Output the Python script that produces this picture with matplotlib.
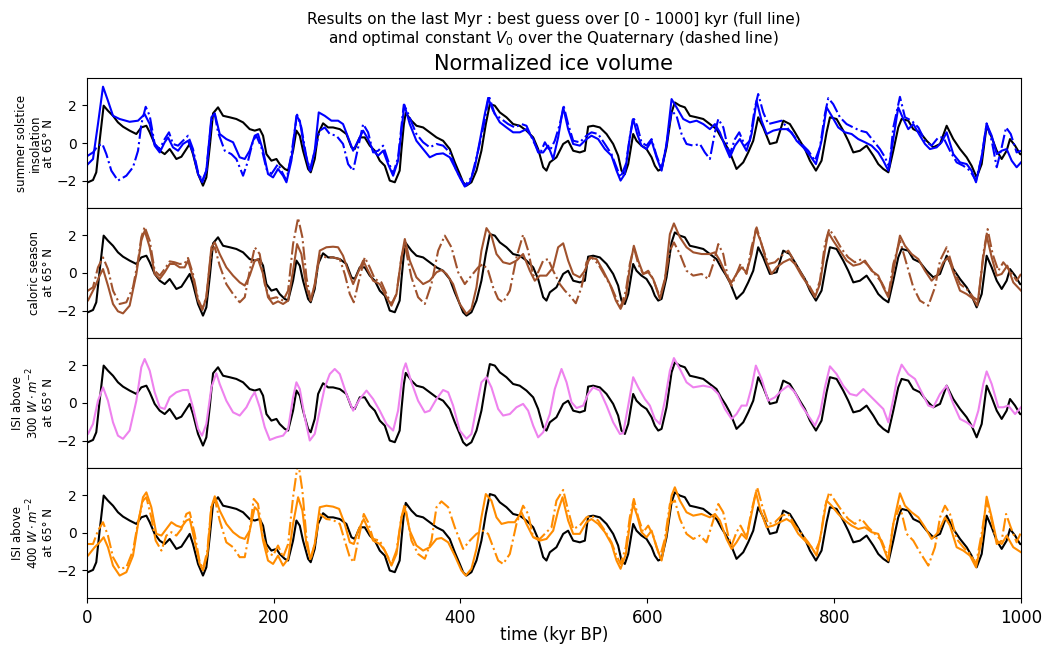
import numpy as np
import matplotlib
matplotlib.use("Agg")
from matplotlib import pyplot as plt

# normalized ice volume (reference record), time in kyr BP
ice = np.array([
    (0, -2.1), (1.4, -2.09), (6.8, -1.97), (10.3, -1.56), (13.9, 0.12), (18.2, 1.99), (22.8, 1.72), (28.2, 1.45),
    (33.5, 1.10), (38.9, 0.87), (46, 0.66), (53.2, 0.48), (58.5, 0.83), (63.9, 0.92), (67.5, 0.57), (72.8, -0.05),
    (78.2, -0.41), (83.5, -0.59), (88.9, -0.32), (96, -0.85), (101.4, -0.73), (106.7, -0.32), (110.3, -0.05),
    (113.8, -0.59), (119.2, -1.65), (124.5, -2.27), (128.1, -1.83), (131.7, -0.23), (135.3, 1.58), (140.6, 1.90),
    (146, 1.45), (153.1, 1.37), (160.2, 1.28), (167.4, 1.10), (174.5, 0.74), (179.9, 0.66), (185.2, 0.74),
    (188.8, 0.39), (192.4, -0.59), (197.7, -0.94), (203.1, -0.85), (206.6, -1.12), (212, -1.38), (215.6, -1.47),
    (220.9, -0.41), (224.5, 0.66), (228.1, 0.39), (231.6, -0.41), (237, -1.38), (239.8, -1.56), (244.1, -0.85),
    (247.7, 0.48), (253, 1.05), (258.4, 0.83), (263.7, 0.83), (270.9, 0.74), (278, 0.48), (283.4, -0.23),
    (286.9, -0.32), (292.3, 0.30), (297.6, 0.30), (303, -0.14), (308.4, -0.41), (313.7, -0.94), (319.1, -1.21),
    (324.4, -2.0), (329.8, -2.09), (335, -1.47), (337, -0.3), (339.5, 1.0), (341.5, 1.6), (347.6, 1.19),
    (353, 0.92), (360.1, 0.83), (367.2, 0.57), (374.4, 0.30), (381.5, 0.12), (388.6, -0.32), (394, -1.03),
    (399.3, -1.65), (402.9, -2.09), (406.5, -2.27), (411.8, -2.09), (417.2, -1.47), (422.5, -0.41), (427.2, 1.01),
    (431.5, 2.07), (436.8, 1.99), (442.2, 1.63), (449.3, 1.37), (456.4, 1.01), (463.5, 0.92), (470.7, 0.66),
    (477.9, 0.30), (483.2, -0.32), (488.6, -1.29), (492.1, -1.47), (495.7, -1.03), (502.8, -0.76), (510, -0.05),
    (515.3, 0.12), (520.7, -0.41), (527.8, -0.50), (533.2, -0.41), (536.7, 0.87), (542.1, 0.92), (549.2, 0.83),
    (556.4, 0.48), (563.5, -0.05), (568.8, -0.67), (572.4, -1.47), (576, -1.65), (579.6, -1.12), (584.9, 0.48),
    (588.5, 0.12), (593.8, -0.14), (599.2, -0.32), (604.6, -0.76), (608.1, -1.21), (611.7, -1.47), (615.3, -1.38),
    (620.6, -0.23), (626, 1.63), (629.5, 2.16), (634.9, 1.99), (640.2, 1.90), (645.6, 1.45), (652.7, 1.37),
    (659.9, 1.28), (667, 1.01), (674.1, 0.74), (679.5, 0.25), (684, -0.1), (688.4, -0.5), (695.5, -1.38),
    (702.7, -1.03), (708, -0.50), (713.4, 0.12), (718.7, 1.37), (724.1, 0.83), (731.2, -0.05), (738.4, 0.04),
    (745.5, 1.19), (752.6, 1.01), (758, 0.57), (763.3, 0.12), (768.7, -0.32), (774.1, -0.94), (780.5, -1.47),
    (786.5, -0.94), (791.9, 0.57), (795.5, 1.37), (802.6, 1.28), (809.7, 0.66), (815.1, 0.12), (820.5, -0.50),
    (827.6, -0.41), (834.7, -0.14), (841.9, -0.67), (847.2, -1.12), (852.6, -1.38), (858, -1.56), (863.3, -0.41),
    (868.6, 0.83), (872.2, 1.28), (879.3, 1.19), (884.7, 0.74), (891.8, 0.57), (899, 0.12), (906.1, -0.23),
    (913.3, -0.05), (920.4, 0.92), (927.5, 0.21), (934.7, -0.32), (941.8, -0.76), (947.1, -1.21), (952.5, -1.83),
    (957.9, -1.12), (963.2, 0.92), (968.6, 0.30), (974, -0.41), (979.3, -0.85), (984.6, -0.41), (988.2, 0.21),
    (993.6, -0.14), (999, -0.59), (1000, -0.6)])

# summer solstice insolation at 65N : best guess (full) / optimal V0 (dashed)
sol_full = np.array([
    (0, -1.2), (1.4, -1.12), (6.8, -0.85), (12.1, 1.01), (17.5, 3.00), (22.8, 2.25), (28.2, 1.45), (35.3, 1.28),
    (46, 1.13), (55, 1.19), (62.1, 1.54), (67.5, 1.01), (72.8, -0.14), (78.2, -0.50), (83.5, 0.04), (87.1, 0.30),
    (92.4, -0.23), (97.8, -0.41), (103.1, -0.05), (108.5, 0.12), (113.8, -0.50), (119.2, -1.65), (123.8, -2.09),
    (128.1, -1.47), (133.5, 1.37), (137.1, 1.58), (142.4, 0.48), (149.5, 0.21), (156.7, 0.04), (163.8, -0.76),
    (169.2, -0.85), (174.5, -0.41), (179.9, 0.39), (183.4, 0.48), (188.8, -0.41), (194.1, -1.65), (199.5, -1.83),
    (204.8, -1.38), (210.2, -1.74), (213.8, -2.09), (219.1, -0.94), (224.5, 1.45), (228.1, 1.19), (233.4, -0.41),
    (238.8, -1.47), (244.1, -0.41), (248.4, 1.63), (254.8, 1.45), (261.9, 1.19), (269.1, 1.19), (274.4, 1.01),
    (279.8, 0.30), (285.2, -0.41), (290.5, 0.12), (295.9, 0.66), (301.2, 0.21), (306.6, -0.41), (312, -0.67),
    (317.3, -0.41), (322.6, -1.12), (328, -1.74), (333.3, -0.94), (340, 2.04), (345.8, 1.01), (352.9, 0.12),
    (360.1, -0.32), (367.2, -0.76), (374.4, -0.59), (381.5, -0.55), (388.6, -0.76), (394, -1.29), (399.3, -1.83),
    (404.7, -2.32), (410.1, -2.09), (415.4, -1.29), (420.8, 0.12), (426.1, 1.54), (429.7, 2.39), (435, 1.72),
    (442.2, 1.10), (449.3, 0.83), (456.4, 0.57), (463.6, 0.57), (470.7, 0.74), (477.9, 0.21), (483.2, -0.50),
    (488.6, -0.50), (493.9, -0.14), (499.3, -0.85), (504.6, 0.30), (510, 1.90), (515.3, 0.74), (520.7, -0.05),
    (527.8, -0.14), (534.9, 0.21), (540.3, 0.39), (547.4, 0.21), (554.6, -0.32), (561.7, -0.67), (567.1, -1.47),
    (571.4, -2.00), (576, -1.65), (581.3, 0.30), (584.9, 1.28), (589.2, 0.48), (593.8, -0.14), (599.2, -0.32),
    (604.6, 0.12), (609.9, -0.76), (615.3, -1.47), (620.6, -0.05), (626, 2.34), (631.3, 1.90), (638.5, 1.28),
    (645.6, 1.10), (652.7, 1.19), (659.9, 1.01), (667, 0.74), (672.4, 1.01), (677.7, 0.57), (683, -0.14),
    (688.4, -0.76), (693.8, -0.14), (699.1, 0.21), (706.2, -0.41), (711.6, 0.48), (717, 2.25), (722.3, 1.19),
    (727.7, 0.48), (734.8, 0.66), (741.9, 0.74), (749.1, 0.74), (754.4, 0.57), (759.8, 0.12), (766.9, -0.23),
    (774.1, -0.67), (780.5, -1.12), (786.5, 0.12), (791.9, 1.90), (797.3, 1.45), (804.4, 0.83), (811.5, 0.57),
    (818.7, 0.48), (825.8, 0.21), (833, 0.04), (840.1, -0.14), (847.2, -0.50), (852.6, -0.94), (858, -1.47),
    (863.3, 0.21), (868.6, 1.90), (874, 1.28), (879.3, 0.74), (884.7, 1.01), (891.8, 0.39), (897.2, -0.05),
    (902.5, -0.32), (909.7, -0.23), (915, 0.04), (920.4, 0.57), (927.5, -0.59), (934.7, -1.03), (941.8, -1.12),
    (947.1, -1.47), (951.8, -2.09), (957.8, -0.76), (963.2, 1.01), (968.6, 0.39), (974, -0.59), (979.3, -0.41),
    (984.6, -0.32), (990, -0.94), (995.3, -1.29), (1000, -1.03)])

sol_dash = np.array([
    (0, -0.7), (1.4, -0.67), (6.8, -0.50), (12.1, -0.14), (16.8, -0.05), (21.1, -0.59), (26.4, -1.47),
    (33.5, -2.00), (42.5, -1.74), (49.6, -1.29), (55, -0.41), (58.5, 1.01), (63.2, 1.93), (67.5, 1.45),
    (72.8, -0.05), (78.2, -0.32), (83.5, 0.21), (88.1, 0.57), (92.4, -0.05), (97.8, -0.14), (103.1, 0.12),
    (108.5, 0.39), (113.8, -0.32), (119.2, -1.56), (123.8, -2.00), (128.1, -1.47), (133.5, 1.19), (137.1, 1.54),
    (140.6, 0.57), (147.8, -0.41), (154.9, -0.59), (160.2, -0.85), (167.4, -1.74), (172.8, -0.94), (178.1, 0.12),
    (181.6, 0.39), (187, -0.23), (192.4, -1.38), (197.7, -1.65), (204.8, -1.12), (210.2, -1.65), (213.8, -2.00),
    (219.1, -0.59), (225.2, 1.51), (229.8, 0.83), (235.2, -0.76), (239.5, -1.47), (244.1, -0.41), (249.5, 0.66),
    (254.8, 0.83), (260.2, 0.48), (267.3, 0.39), (274.4, -0.05), (279.8, -1.12), (285.2, -1.47), (290.5, -0.23),
    (295.9, 1.01), (301.2, 0.57), (306.6, -0.50), (312, -0.41), (317.3, -0.14), (322.6, -0.94), (328, -1.65),
    (333.3, -0.76), (339.4, 2.04), (343, 1.7), (347, 1.19), (352.9, 0.48), (360.1, 0.04), (367.2, -0.23),
    (374.4, -0.05), (381.5, -0.14), (388.6, -0.50), (395.7, -1.47), (404.7, -2.27), (411.8, -1.83), (419, -0.41),
    (426.1, 1.19), (430.4, 2.52), (436.8, 1.54), (443.9, 1.28), (451.1, 1.01), (458.2, 0.83), (465.4, 1.01),
    (470.7, 0.92), (477.9, 0.12), (485, -0.59), (490.4, 0.04), (495.7, -0.41), (501, 0.12), (506.4, 1.01),
    (510.7, 1.93), (515.3, 1.01), (520.7, 0.12), (527.8, 0.04), (534.9, 0.39), (540.3, 0.57), (547.4, 0.48),
    (554.6, -0.05), (561.7, -0.59), (567.1, -1.29), (571.4, -1.83), (577.1, -1.12), (581.3, 0.30), (584.9, 1.37),
    (589.2, 0.92), (593.8, 0.04), (599.2, -0.14), (604.6, 0.21), (609.9, -0.67), (615.3, -1.38), (620.6, -0.05),
    (626, 1.72), (631.3, 1.45), (636.7, 0.48), (642, -0.05), (649.2, -0.14), (656.3, -0.05), (661.6, -0.50),
    (667, -0.85), (672.4, 0.57), (676, 1.28), (681.4, 0.83), (686.6, -0.32), (688.4, -0.59), (693.8, 0.21),
    (698.4, 0.57), (704.5, -0.14), (709.8, 0.12), (715.2, 1.90), (718.7, 2.61), (724.1, 1.63), (729.5, 1.01),
    (736.6, 1.10), (743.7, 1.19), (750.9, 0.74), (758, 0.30), (765.1, -0.05), (772.3, -0.41), (779.4, -0.94),
    (784.8, -0.23), (790.1, 1.54), (793.7, 2.39), (799, 2.07), (806.2, 1.37), (813.3, 1.01), (820.5, 0.83),
    (827.6, 0.66), (834.7, 0.57), (841.9, 0.12), (849, -0.32), (854.4, -0.76), (859, -1.29), (863.3, 0.83),
    (870.4, 2.46), (875.8, 1.37), (882.9, 1.19), (890.1, 0.83), (897.2, 0.12), (904.3, -0.14), (911.5, 0.30),
    (916.8, 0.30), (923.9, -0.41), (931.1, -1.03), (938.2, -1.21), (945.4, -1.47), (951.8, -2.00), (957.8, -0.76),
    (963.2, 1.05), (968.6, 0.12), (974, -1.29), (979.3, -0.23), (984, 0.83), (989, 0.48), (995.3, -0.50),
    (1000, -0.41)])

# caloric season at 65N
cal_full = np.array([
    (0, -1.5), (1.4, -1.47), (8.6, -0.76), (13.9, -0.14), (17.5, 0.21), (22.8, -0.67), (28.2, -1.65), (33.5, -2.04),
    (38.9, -2.15), (46, -1.74), (53.2, -0.05), (58.5, 1.72), (62.1, 2.25), (67.5, 1.37), (72.8, -0.05),
    (78.2, -0.32), (83.5, 0.04), (88.9, 0.48), (94.2, 0.48), (99.6, 0.30), (104.9, 0.30), (108.5, 0.66),
    (113.8, -0.23), (119.2, -1.47), (123.8, -1.97), (128.1, -1.29), (133.5, 1.37), (137.1, 1.63), (142.4, 1.01),
    (149.5, 0.30), (156.7, -0.14), (163.8, -0.50), (169.2, -0.67), (174.5, -0.14), (179.9, 0.66), (183.4, 0.74),
    (188.8, -0.05), (194.1, -1.29), (199.5, -1.65), (204.8, -1.51), (210.2, -1.65), (215.6, -1.47), (220.9, 0.12),
    (225.2, 1.54), (229.8, 1.01), (235.2, -0.76), (239.8, -1.47), (244.1, -0.59), (249.5, 1.19), (256.6, 1.37),
    (263.7, 1.40), (269.1, 1.37), (274.4, 0.92), (279.8, 0.12), (285.2, -0.59), (290.5, 0.04), (295.9, 0.66),
    (301.2, 0.12), (306.6, -0.41), (313.7, -0.59), (319.1, -1.12), (326.2, -1.74), (331.6, -1.12), (336.9, 0.83),
    (340.5, 1.81), (345.8, 0.66), (352.9, -0.23), (360.1, -0.59), (367.2, -0.41), (374.4, 0.04), (379.7, 0.16),
    (385.1, -0.05), (392.2, -0.59), (399.3, -1.65), (406.5, -2.18), (411.8, -1.91), (417.2, -0.76), (422.5, 1.19),
    (427.9, 2.39), (433.2, 1.99), (438.6, 1.01), (445.7, 0.57), (452.9, 0.48), (460, 0.66), (467.1, 1.01),
    (474.3, 0.12), (479.6, -0.41), (485, -0.14), (492.1, -0.14), (499.3, 0.30), (504.6, 1.37), (510, 1.58),
    (515.3, 0.66), (520.7, -0.05), (527.8, -0.23), (533.2, 0.12), (538.5, 0.83), (545.7, 0.74), (552.8, 0.12),
    (560, -0.59), (566.4, -1.47), (571.4, -1.91), (577.1, -1.29), (581.3, 0.30), (585.6, 1.45), (590.3, 0.66),
    (595.6, -0.05), (601, 0.04), (606.3, -0.32), (613.5, -1.38), (618.8, -0.41), (624.2, 2.07), (628.5, 2.64),
    (634.9, 1.90), (642, 1.37), (649.2, 1.10), (658.1, 1.01), (667, 1.01), (672.4, 1.10), (677.7, 0.66),
    (684.8, -0.14), (690.2, -0.50), (695.5, -0.05), (700.9, 0.30), (706.2, 0.04), (711.6, 1.01), (716.2, 2.34),
    (721.2, 1.72), (727.7, 0.57), (733, -0.05), (738.4, 0.30), (745.5, 0.57), (752.6, 0.74), (758, 0.48),
    (765.1, -0.14), (772.3, -0.67), (779.4, -1.29), (784.8, -0.59), (790.1, 1.19), (793.7, 2.16), (799, 1.72),
    (806.2, 1.19), (813.3, 0.66), (820.5, 0.39), (827.6, 0.48), (833, 0.66), (840.1, 0.12), (847.2, -0.14),
    (852.6, -0.76), (858, -1.29), (863.3, 0.12), (870.4, 1.99), (875.8, 1.45), (882.9, 1.01), (890.1, 0.74),
    (897.2, 0.12), (904.3, -0.41), (911.5, -0.05), (916.8, 0.57), (922.2, 0.83), (927.5, 0.04), (934.7, -0.94),
    (941.8, -1.12), (948.9, -1.38), (953.2, -1.74), (959.6, 0.83), (963.2, 1.99), (968.6, 0.83), (974, -0.14),
    (979.3, -0.05), (985.3, 0.39), (991.7, -0.50), (1000, -0.94)])

cal_dash = np.array([
    (0, -1.0), (1.4, -0.94), (6.8, -0.76), (12.1, 0.30), (17.5, 0.83), (22.8, 0.21), (28.2, -0.94), (35.3, -1.65),
    (42.5, -1.56), (49.6, -0.76), (55, 0.66), (58.5, 1.90), (62.1, 2.46), (67.5, 1.72), (72.8, 0.12),
    (78.2, -0.14), (83.5, 0.21), (88.9, 0.62), (94.2, 0.57), (99.6, 0.48), (104.9, 0.51), (108.5, 0.80),
    (113.8, -0.05), (119.2, -1.38), (123.8, -1.91), (128.1, -1.29), (133.5, 1.19), (137.1, 1.37), (142.4, 0.39),
    (149.5, -0.59), (156.7, -1.12), (163.8, -1.56), (169.2, -1.29), (174.5, 0.12), (179.9, 1.37), (185.2, 1.01),
    (190.6, -0.59), (196, -1.38), (203.1, -1.29), (210.2, -1.47), (215.6, -0.94), (220.9, 1.54), (226.3, 2.93),
    (230.9, 1.90), (235.2, -0.23), (239.8, -1.47), (244.1, -0.67), (249.5, 0.92), (256.6, 0.83), (263.7, 0.83),
    (270.9, 0.74), (276.2, -0.05), (281.6, -1.12), (285.9, -1.56), (290.5, -0.59), (297.6, 0.83), (303, 0.30),
    (308.4, -0.32), (315.5, -0.50), (320.9, -1.12), (326.2, -1.65), (331.6, -1.12), (336.9, 0.83), (340.5, 1.5),
    (347.6, -0.23), (354.7, -1.29), (361.9, -1.65), (369, -0.59), (376.2, 1.19), (383.3, 1.99), (390.4, 1.37),
    (397.6, 0.04), (404.7, -0.59), (411.8, -0.14), (419, 0.30), (424.3, 0.48), (429.7, 0.12), (435, -0.76),
    (440.4, -1.38), (445.7, -1.56), (452.9, -0.94), (460, 0.83), (467.1, 2.04), (472.5, 1.19), (477.9, -0.14),
    (483.2, 0.04), (488.6, 0.66), (493.9, 0.74), (499.3, 0.12), (506.4, -0.59), (511.8, -0.94), (517.1, -1.21),
    (523.5, -1.61), (529.6, -0.76), (534.9, 0.57), (540.3, 0.83), (547.4, 0.48), (554.6, -0.14), (561.7, -0.76),
    (567.1, -1.38), (571.4, -1.83), (577.1, -0.94), (581.3, 0.48), (585.6, 1.37), (590.3, 0.48), (595.6, -0.05),
    (601, 0.12), (606.3, -0.32), (613.5, -1.29), (618.8, -0.32), (624.2, 1.19), (628.5, 1.63), (634.9, 1.01),
    (642, 0.12), (649.2, -0.14), (658.1, -0.05), (665.2, -0.32), (670.5, 0.48), (676, 1.54), (681.3, 1.01),
    (686.6, -0.32), (690.2, -0.67), (695.5, -0.05), (699.8, 0.48), (706.2, -0.05), (711.6, 1.37), (717, 2.43),
    (722.3, 1.54), (729.4, 0.48), (736.6, 0.57), (743.7, 0.92), (750.9, 1.19), (758, 0.57), (765.1, -0.05),
    (772.3, -0.59), (779.4, -1.21), (784.8, -0.41), (790.1, 1.54), (794.7, 2.34), (800.8, 1.90), (808, 1.28),
    (815.1, 0.83), (822.2, 0.57), (829.4, 0.74), (836.5, 0.39), (843.6, -0.05), (850.8, -0.50), (858, -1.21),
    (863.3, 0.48), (870.4, 1.72), (877.6, 0.48), (884.7, -0.76), (891.8, -1.47), (900.8, -1.74), (907.9, -0.76),
    (913.3, 0.66), (920.4, 1.37), (927.5, 0.21), (934.7, -0.59), (941.8, -0.85), (948.9, -1.29), (954.3, -1.47),
    (959.6, 1.01), (964.2, 2.34), (969.6, 1.01), (975.7, 0.12), (981, 0.57), (988.2, 0.12), (995.3, -0.41),
    (1000, -0.05)])

# integrated summer insolation above 300 W/m2 at 65N
isi300 = np.array([
    (0, -1.7), (1.4, -1.65), (6.8, -1.12), (12.1, 0.12), (17.5, 0.83), (22.8, 0.12), (28.2, -1.03), (33.5, -1.74),
    (38.9, -1.91), (46, -1.47), (53.2, 0.12), (58.5, 1.90), (62.1, 2.34), (67.5, 1.72), (72.8, 0.57),
    (78.2, -0.23), (83.5, -0.32), (88.9, 0.30), (96, 0.57), (103.1, 0.69), (108.5, 0.69), (113.8, -0.23),
    (119.2, -1.38), (123.5, -1.74), (128.1, -1.12), (133.5, 0.83), (138.8, 1.58), (142.4, 1.01), (149.5, 0.12),
    (156.7, -0.50), (163.8, -0.67), (171, -0.23), (176.3, 0.30), (179.9, 0.57), (185.2, -0.23), (190.6, -1.29),
    (196, -1.97), (203.1, -1.83), (210.2, -1.74), (215.6, -1.38), (220.9, 0.30), (224.5, 1.10), (228.1, 0.74),
    (233.4, -0.76), (238.8, -2.00), (244.1, -1.65), (249.5, -0.41), (254.8, 0.83), (260.2, 1.54), (265.5, 1.81),
    (270.9, 1.54), (278, 0.48), (285.2, -0.41), (292.3, 0.21), (299.5, 0.66), (306.6, 0.21), (313.7, -0.41),
    (320.9, -1.12), (328, -1.47), (333.3, -0.41), (338.7, 1.72), (341.5, 2.11), (347.6, 1.10), (354.7, 0.12),
    (361.9, -0.50), (367.2, -0.41), (374.4, 0.21), (381.5, 0.69), (386.9, 0.57), (392.2, -0.14), (399.3, -1.47),
    (406.5, -1.91), (411.8, -1.65), (417.2, -0.23), (422.5, 1.10), (427.9, 1.37), (433.2, 0.83), (440.4, -0.32),
    (445.7, -0.67), (452.9, -0.59), (460, -0.23), (467.1, -0.05), (472.5, -0.41), (477.9, -1.21), (483.2, -1.83),
    (488.6, -1.56), (495.7, -0.59), (501, 0.74), (508.2, 1.81), (513.6, 1.10), (518.9, 0.04), (524.3, -0.27),
    (531.4, -0.14), (536.7, 0.48), (542.1, 0.83), (549.2, 0.66), (556.4, -0.14), (563.5, -1.03), (570.7, -1.65),
    (574.2, -1.61), (579.6, -0.14), (584.9, 1.37), (590.3, 0.83), (597.4, 0.21), (602.8, -0.14), (608.1, -0.85),
    (613.5, -1.12), (618.8, 0.12), (624.2, 1.72), (628.5, 2.39), (634.9, 1.81), (642, 1.10), (649.2, 0.83),
    (659.9, 0.92), (668.8, 0.83), (676, 0.48), (683.1, -0.32), (690.2, -0.85), (695.5, -0.59), (700.9, -0.14),
    (706.3, -0.14), (711.6, 0.83), (716.2, 1.99), (722.3, 1.28), (729.4, 0.12), (736.6, 0.30), (743.7, 0.66),
    (750.9, 0.92), (758, 0.57), (765.1, -0.14), (772.3, -0.67), (779.4, -1.21), (784.8, -0.59), (790.1, 0.83),
    (795.5, 1.95), (802.6, 1.54), (809.7, 0.92), (816.9, 0.48), (824, 0.39), (831.2, 0.74), (838.3, 0.39),
    (845.4, 0.04), (852.6, -0.32), (858, -1.03), (863.3, 0.21), (867.6, 1.37), (872.2, 2.04), (879.3, 1.54),
    (886.5, 1.28), (893.6, 0.57), (900.8, -0.14), (906.1, -0.23), (913.3, 0.48), (920.4, 0.92), (927.5, -0.05),
    (934.7, -0.85), (941.8, -1.03), (948.9, -1.29), (954.3, -0.41), (959.6, 1.01), (963.2, 1.68), (968.6, 1.01),
    (975.7, -0.23), (981, -0.23), (986.4, -0.14), (993.6, -0.59), (1000, -0.23)])

# integrated summer insolation above 400 W/m2 at 65N
isi400_full = np.array([
    (0, -1.25), (1.4, -1.21), (8.6, -0.76), (13.9, -0.50), (18.2, -0.23), (22.8, -0.76), (28.2, -1.74),
    (35.3, -2.27), (42.5, -2.09), (49.6, -1.21), (55, 0.48), (60.3, 1.90), (63.9, 2.16), (69.2, 1.37),
    (74.6, -0.05), (80, -0.14), (85.3, 0.21), (90.7, 0.57), (96, 0.39), (101.4, 0.30), (106.7, 0.66),
    (110.3, 0.74), (115.6, -0.41), (121, -1.65), (124.5, -2.00), (129.2, -1.12), (133.5, 1.37), (137.1, 1.95),
    (142.4, 1.19), (149.5, 0.48), (156.7, 0.04), (163.8, -0.23), (169.2, -0.32), (174.5, 0.12), (179.9, 1.37),
    (183.4, 1.19), (188.8, -0.41), (194.1, -1.47), (199.5, -1.65), (204.8, -1.21), (210.2, -1.74), (215.6, -1.38),
    (220.9, 0.48), (226.3, 1.90), (230.9, 1.19), (235.2, -0.59), (239.5, -1.38), (244.1, -0.59), (249.5, 1.37),
    (256.6, 1.45), (263.7, 1.40), (270.2, 1.28), (276.2, 0.48), (281.6, -0.50), (285.9, -0.59), (290.5, 0.12),
    (296.6, 0.74), (301.2, 0.21), (306.6, -0.41), (313.7, -0.59), (319.1, -0.94), (326.2, -1.74), (331.6, -1.12),
    (336.9, 0.83), (340.5, 1.32), (345.8, 0.12), (352.9, -0.67), (360.1, -0.94), (367.2, -0.76), (374.4, -0.32),
    (379.7, -0.27), (386.9, -0.50), (394, -1.21), (401.1, -2.00), (405.8, -2.27), (411.8, -1.91), (417.2, -0.85),
    (422.5, 0.83), (427.2, 2.07), (433.2, 1.72), (438.6, 0.83), (444, 0.48), (451.1, 0.57), (458.2, 0.57),
    (465.4, 1.10), (470.7, 0.48), (477.9, -0.23), (485, -0.41), (492.1, -0.32), (499.3, 0.12), (504.6, 1.19),
    (509.3, 1.90), (515.3, 0.66), (520.7, -0.05), (527.8, -0.05), (534.9, 0.57), (540.3, 0.74), (547.4, 0.48),
    (554.6, 0.04), (561.7, -0.59), (567.1, -1.47), (571.4, -1.91), (577.1, -1.12), (581.3, 0.48), (584.9, 1.54),
    (589.2, 0.92), (593.8, 0.04), (599.2, -0.23), (604.6, 0.12), (609.9, -0.76), (615.3, -1.47), (620.6, -0.05),
    (626, 1.99), (629.5, 2.43), (634.9, 1.72), (642, 1.10), (649.2, 0.92), (658.1, 1.01), (667, 0.83),
    (672.4, 1.01), (677.7, 0.66), (684.8, -0.32), (690.2, -0.85), (695.5, -0.50), (700.9, -0.05), (706.2, -0.32),
    (711.6, 1.01), (716.2, 2.16), (721.2, 1.19), (727.7, 0.30), (734.8, 0.39), (741.9, 0.57), (749.1, 0.74),
    (754.4, 0.57), (761.6, -0.05), (768.7, -0.41), (775.8, -0.76), (781.2, -1.21), (786.5, 0.12), (791.9, 1.72),
    (797.3, 1.45), (804.4, 1.01), (811.5, 0.66), (818.7, 0.39), (825.8, 0.21), (833, 0.30), (840.1, 0.04),
    (847.2, -0.05), (852.6, -0.76), (858, -1.47), (863.3, 0.48), (870.4, 2.11), (875.8, 1.45), (882.9, 1.10),
    (890.1, 0.83), (897.2, 0.30), (904.3, -0.32), (911.5, 0.04), (918.6, 0.83), (924, 0.39), (931.1, -0.76),
    (938.2, -0.94), (945.4, -1.21), (951.8, -1.83), (957.8, -0.41), (963.2, 1.93), (968.6, 0.83), (974, -0.41),
    (979.3, -0.59), (984.6, -0.14), (991.7, -0.76), (1000, -1.03)])

isi400_dash = np.array([
    (0, -0.6), (1.4, -0.59), (6.8, -0.59), (12.1, 0.12), (17.5, 0.57), (22.8, -0.14), (28.2, -1.29), (35.3, -1.91),
    (42.5, -1.83), (49.6, -0.94), (55, 0.57), (60.3, 1.72), (63.9, 1.90), (69.2, 0.83), (73.9, -0.41),
    (80, -0.94), (85.3, -0.14), (90.7, 0.04), (96, -0.14), (101.4, 0.21), (106.7, 1.01), (110.3, 1.10),
    (115.6, -0.05), (121, -1.56), (124.5, -1.91), (129.2, -0.94), (133.5, 1.45), (137.1, 1.81), (142.4, 0.66),
    (149.5, -0.50), (156.7, -0.76), (163.8, -1.29), (169.2, -1.29), (174.5, 0.12), (178.8, 1.81), (183.4, 1.54),
    (188.8, -0.23), (194.1, -1.03), (199.5, -1.21), (204.8, -0.67), (210.2, -1.29), (215.6, -0.59), (220.9, 1.90),
    (226.3, 3.8), (230.9, 2.25), (235.2, -0.23), (239.5, -1.47), (244.1, -0.59), (249.5, 1.01), (256.6, 0.74),
    (263.7, 0.69), (270.9, 0.48), (276.2, -0.41), (281.6, -1.29), (285.9, -1.56), (290.5, -0.41), (296.6, 1.01),
    (301.2, 0.57), (306.6, -0.32), (313.7, -0.41), (319.1, -0.94), (326.2, -1.65), (331.6, -0.94), (336.9, 0.83),
    (340.5, 1.54), (347.6, -0.41), (354.7, -1.12), (361.9, -1.38), (369, -0.41), (374.4, 1.37), (379.7, 1.68),
    (386.9, 1.37), (394, 0.30), (402.9, -0.85), (410.1, -0.41), (417.2, -0.05), (424.3, 0.12), (429.7, -0.05),
    (435, -0.76), (440.4, -1.47), (445.7, -1.65), (452.9, -1.12), (460, 0.48), (467.1, 1.45), (472.5, 1.01),
    (477.9, -0.23), (485, -0.32), (492.1, 0.04), (497.5, 0.30), (502.8, 1.72), (510, 2.29), (515.3, 1.19),
    (520.7, 0.21), (527.8, 0.39), (534.9, 0.83), (540.3, 0.92), (547.4, 0.66), (554.6, 0.12), (561.7, -0.50),
    (567.1, -1.21), (571.4, -1.65), (577.1, -0.76), (581.3, 0.83), (585.6, 1.81), (590.3, 0.83), (595.6, 0.04),
    (601, 0.39), (606.3, -0.14), (613.5, -1.29), (618.8, -0.32), (624.2, 1.54), (629.5, 1.72), (634.9, 0.74),
    (642, -0.05), (649.2, -0.32), (656.3, -0.14), (663.4, -0.50), (670.5, 0.66), (676, 1.54), (681.3, 1.10),
    (686.6, -0.14), (690.2, -0.67), (695.5, 0.04), (699.8, 0.39), (706.2, -0.23), (711.6, 1.19), (717.6, 2.43),
    (723.4, 1.37), (729.4, 0.48), (736.6, 0.57), (743.7, 0.92), (750.9, 1.01), (758, 0.39), (765.1, -0.05),
    (772.3, -0.50), (779.4, -1.03), (784.8, -0.41), (790.1, 1.37), (794.7, 2.16), (800.8, 1.72), (808, 1.19),
    (815.1, 0.74), (822.2, 0.48), (829.4, 0.74), (836.5, 0.30), (843.6, -0.05), (850.8, -0.41), (858, -1.29),
    (863.3, 0.48), (870.4, 1.45), (877.6, -0.05), (884.7, -0.41), (891.8, -1.03), (900.8, -1.74), (907.9, -0.76),
    (913.3, 0.83), (918.6, 1.45), (924, 1.01), (931.1, -0.32), (938.2, -0.76), (945.4, -1.12), (951.8, -1.65),
    (957.8, -0.05), (963.2, 1.72), (968.6, 0.66), (974, -0.59), (979.3, -0.41), (984, 1.01), (989, 0.30),
    (995.3, -0.50), (1000, 0.04)])

panels = [
    ("summer solstice\ninsolation\nat 65° N", "blue", sol_full, sol_dash),
    ("caloric season\nat 65° N", "sienna", cal_full, cal_dash),
    ("ISI above\n300 $W \\cdot m^{-2}$\nat 65° N", "violet", isi300, None),
    ("ISI above\n400 $W \\cdot m^{-2}$\nat 65° N", "darkorange", isi400_full, isi400_dash),
]

fig, axes = plt.subplots(4, 1, sharex=True, figsize=(10.44, 6.45), dpi=100)
fig.subplots_adjust(left=0.083, right=0.978, top=0.879, bottom=0.073, hspace=0)

for ax, (label, col, full, dash) in zip(axes, panels):
    ax.plot(ice[:, 0], ice[:, 1], color="black", lw=1.5)
    ax.plot(full[:, 0], full[:, 1], color=col, lw=1.5)
    if dash is not None:
        ax.plot(dash[:, 0], dash[:, 1], color=col, lw=1.5, ls="-.")
    ax.set_ylim(-3.46, 3.46)
    ax.set_yticks([-2, 0, 2])
    ax.tick_params(axis="y", labelsize=10)
    ax.set_ylabel(label, fontsize=8.5, linespacing=1.05)
    ax.yaxis.set_label_coords(-0.034, 0.5)

for ax in axes[:-1]:
    ax.tick_params(axis="x", bottom=False, labelbottom=False)

axes[-1].set_xlim(0, 1000)
axes[-1].tick_params(axis="x", labelsize=12, pad=4.5)
axes[-1].set_xlabel("time (kyr BP)", fontsize=12, labelpad=-1)
axes[0].set_title("Normalized ice volume", fontsize=15)
fig.suptitle("Results on the last Myr : best guess over [0 - 1000] kyr (full line)\n"
             "and optimal constant $V_0$ over the Quaternary (dashed line)",
             x=0.53, y=0.982, fontsize=11)

fig.savefig("out.png", dpi=100)
